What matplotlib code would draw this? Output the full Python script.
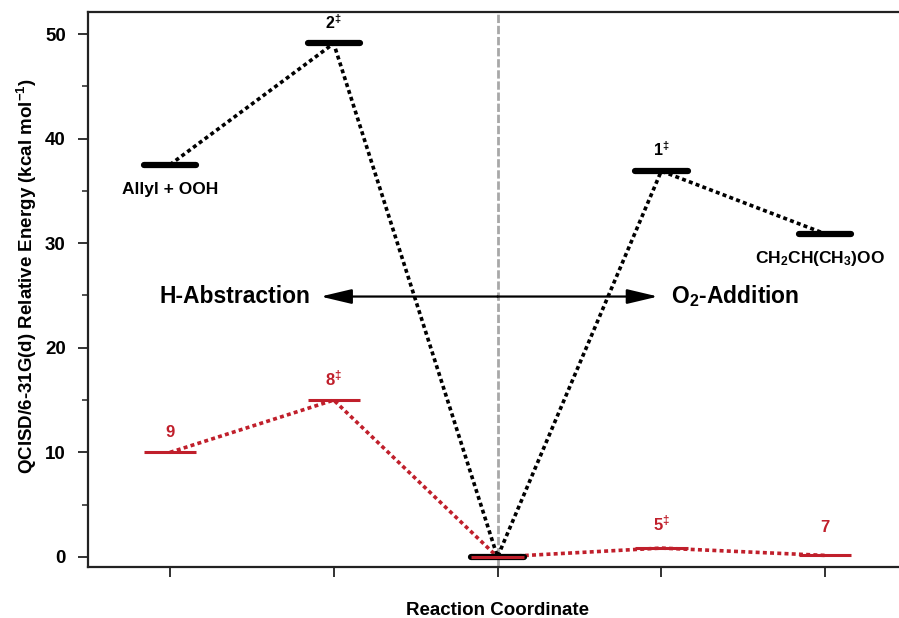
import matplotlib.pyplot as plt
from matplotlib.ticker import MultipleLocator

# reaction coordinate positions and energies (kcal/mol)
black_x = [1, 2, 3, 4, 5]
black_y = [37.5, 49.1, 0.0, 36.9, 30.9]
red_x = [1, 2, 3, 4, 5]
red_y = [10.0, 15.0, 0.0, 0.85, 0.15]

black_labels = ["Allyl + OOH", "2$^{\\ddag}$", "", "1$^{\\ddag}$", "CH$_2$CH(CH$_3$)OO"]
red_labels = ["9", "8$^{\\ddag}$", "", "5$^{\\ddag}$", "7"]

RED = "#c01f2b"
HALF = 0.16

plt.rcParams['font.family'] = ['Liberation Sans', 'DejaVu Sans']
plt.rcParams['mathtext.fontset'] = 'custom'
plt.rcParams['mathtext.rm'] = 'Liberation Sans:bold'
plt.rcParams['mathtext.it'] = 'Liberation Sans:bold'
plt.rcParams['mathtext.bf'] = 'Liberation Sans:bold'

fig = plt.figure(figsize=(8.99, 6.18), dpi=100)
ax = fig.add_axes([0.0979, 0.0825, 0.911, 0.898])

# vertical guide through the common minimum
ax.axvline(3, color="#a8a8a8", lw=2, ls=(0, (3, 1)), zorder=1)

# connecting dotted paths
ax.plot(black_x, black_y, color="black", lw=2.6, ls=(0, (1.1, 0.9)), zorder=2)
ax.plot(red_x, red_y, color=RED, lw=2.6, ls=(0, (1.1, 0.9)), zorder=2)

# energy levels
ax.hlines(black_y, [x - HALF for x in black_x], [x + HALF for x in black_x],
          color="black", lw=4.5, capstyle="round", zorder=3)
ax.hlines(red_y, [x - HALF for x in red_x], [x + HALF for x in red_x],
          color=RED, lw=2.2, zorder=4)

# labels for levels
black_off = [-2.4, 2.0, 0, 2.0, -2.4]
black_size = [12.5, 11.5, 0, 11.5, 12.5]
for x, y, s, d, fs in zip(black_x, black_y, black_labels, black_off, black_size):
    if s:
        ax.text(x - (0.03 if d < 0 and x == 5 else 0), y + d, s, ha="center", va="center",
                fontsize=fs, fontweight="bold")
red_off = [1.9, 2.1, 0, 2.4, 2.7]
for x, y, s, d in zip(red_x, red_y, red_labels, red_off):
    if s:
        ax.text(x, y + d, s, ha="center", va="center", fontsize=12, color=RED,
                fontweight="bold", family=['Liberation Sans Narrow', 'Liberation Sans'])

# double arrow between the two channels
arrow = dict(arrowstyle="-|>,head_length=1.9,head_width=0.45", color="black", lw=1.6,
             shrinkA=0, shrinkB=0)
ax.annotate("", xy=(1.92, 24.9), xytext=(3.0, 24.9), arrowprops=arrow)
ax.annotate("", xy=(3.98, 24.9), xytext=(3.0, 24.9), arrowprops=arrow)
ax.text(1.86, 24.9, "H-Abstraction", ha="right", va="center", fontsize=16.5, fontweight="bold")
ax.text(4.06, 24.9, "O$_2$-Addition", ha="left", va="center", fontsize=16.5, fontweight="bold")

ax.set_xlim(0.5, 5.5)
ax.set_ylim(-0.96, 52.1)
ax.set_xticks(black_x)
ax.set_xticklabels([])
ax.yaxis.set_major_locator(MultipleLocator(10))
ax.yaxis.set_minor_locator(MultipleLocator(5))
ax.tick_params(axis="both", which="major", length=7, width=1.3, direction="out",
               color="#222222")
ax.tick_params(axis="y", which="major", pad=9)
ax.tick_params(axis="y", which="minor", length=4, width=1.1, color="#222222")
for lab in ax.get_yticklabels():
    lab.set_fontweight("bold")
    lab.set_fontsize(13.5)
for sp in ax.spines.values():
    sp.set_linewidth(1.6)
    sp.set_color("#222222")
ax.spines["right"].set_visible(False)

ax.set_xlabel("Reaction Coordinate", fontsize=13.5, fontweight="bold", labelpad=15)
ax.set_ylabel("QCISD/6-31G(d) Relative Energy (kcal mol$^{-1}$)", fontsize=13.5,
              fontweight="bold")
ax.yaxis.set_label_coords(-0.060, 0.524)

fig.savefig("out.png", dpi=100)
